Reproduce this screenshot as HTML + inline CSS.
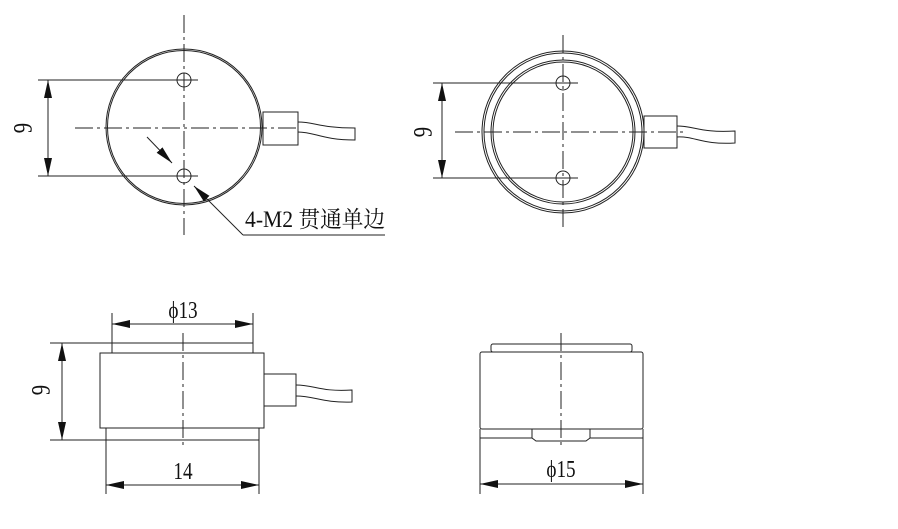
<!DOCTYPE html>
<html><head><meta charset="utf-8"><style>
html,body{margin:0;padding:0;background:#fff;}
svg{display:block;}
text{font-family:"Liberation Serif","Noto Serif CJK SC",serif;fill:#111;}
</style></head><body>
<svg width="898" height="529" viewBox="0 0 898 529" xmlns="http://www.w3.org/2000/svg">
<defs>
<marker id="a" viewBox="0 0 18 8" refX="18" refY="4" markerWidth="18" markerHeight="8" orient="auto-start-reverse" markerUnits="userSpaceOnUse">
<path d="M0,0 L18,4 L0,8z" fill="#111"/></marker>
</defs>
<g stroke="#222" stroke-width="1" fill="none">
<circle cx="184" cy="127" r="78"/>
<circle cx="184" cy="127" r="76.5"/>
<circle cx="184" cy="80" r="7"/>
<circle cx="184" cy="176" r="7"/>
<line x1="184" y1="15" x2="184" y2="235" stroke-dasharray="18,4,3,4"/>
<line x1="75" y1="128" x2="300" y2="128" stroke-dasharray="18,4,3,4"/>
<line x1="38" y1="80" x2="198" y2="80"/>
<line x1="38" y1="176" x2="198" y2="176"/>
<line x1="48" y1="80" x2="48" y2="176" marker-start="url(#a)" marker-end="url(#a)"/>
<rect x="263" y="112" width="35" height="33"/>
<path d="M298,122 C315,122 320,128 355,128 L355,140 C322,140 315,132 298,132"/>
<line x1="147" y1="137" x2="172" y2="163" marker-end="url(#a)"/>
<line x1="243" y1="235" x2="194" y2="186" marker-end="url(#a)"/>
<line x1="243" y1="235" x2="385" y2="235"/>
<circle cx="563" cy="132" r="81"/>
<circle cx="563" cy="132" r="79"/>
<circle cx="563" cy="132" r="72"/>
<circle cx="563" cy="132" r="70"/>
<circle cx="563" cy="83" r="7"/>
<circle cx="563" cy="178" r="7"/>
<line x1="563" y1="35" x2="563" y2="230" stroke-dasharray="18,4,3,4"/>
<line x1="455" y1="132" x2="685" y2="132" stroke-dasharray="18,4,3,4"/>
<line x1="433" y1="83" x2="578" y2="83"/>
<line x1="433" y1="178" x2="578" y2="178"/>
<line x1="442" y1="83" x2="442" y2="178" marker-start="url(#a)" marker-end="url(#a)"/>
<rect x="644" y="116" width="33" height="32"/>
<path d="M677,126 C695,126 700,133 735,131 L735,143 C702,145 695,136 677,137"/>
<rect x="112" y="343" width="141" height="10"/>
<rect x="100" y="353" width="164" height="75"/>
<rect x="106" y="428" width="153" height="12"/>
<rect x="264" y="374" width="32" height="32"/>
<path d="M296,385 C315,385 320,392 352,390 L352,402 C322,403 315,396 296,396"/>
<line x1="183" y1="333" x2="183" y2="448" stroke-dasharray="18,4,3,4"/>
<line x1="112" y1="313" x2="112" y2="343"/>
<line x1="253" y1="313" x2="253" y2="343"/>
<line x1="112" y1="324" x2="253" y2="324" marker-start="url(#a)" marker-end="url(#a)"/>
<line x1="50" y1="343" x2="112" y2="343"/>
<line x1="50" y1="440" x2="106" y2="440"/>
<line x1="62" y1="343" x2="62" y2="440" marker-start="url(#a)" marker-end="url(#a)"/>
<line x1="106" y1="440" x2="106" y2="494"/>
<line x1="259" y1="440" x2="259" y2="494"/>
<line x1="106" y1="485" x2="259" y2="485" marker-start="url(#a)" marker-end="url(#a)"/>
<rect x="491" y="344" width="141" height="8" rx="2"/>
<rect x="480" y="352" width="163" height="77" rx="2"/>
<path d="M480,429 L480,438 L532,438 M590,438 L643,438 L643,429 M532,429 L532,438 L536,441 L586,441 L590,438 L590,429"/>
<line x1="561" y1="333" x2="561" y2="448" stroke-dasharray="18,4,3,4"/>
<line x1="480" y1="438" x2="480" y2="494"/>
<line x1="643" y1="438" x2="643" y2="494"/>
<line x1="480" y1="484" x2="643" y2="484" marker-start="url(#a)" marker-end="url(#a)"/>
</g>
<text x="0" y="0" font-size="26" transform="translate(24,128) rotate(-90) scale(0.8,1)" text-anchor="middle" dominant-baseline="central">9</text>
<text x="0" y="0" font-size="26" transform="translate(424,132) rotate(-90) scale(0.8,1)" text-anchor="middle" dominant-baseline="central">9</text>
<text x="0" y="0" font-size="26" transform="translate(42,390) rotate(-90) scale(0.8,1)" text-anchor="middle" dominant-baseline="central">9</text>
<text x="245" y="227" font-size="23" textLength="140" lengthAdjust="spacingAndGlyphs">4-M2 贯通单边</text>
<text x="0" y="0" font-size="24" transform="translate(183,318) scale(0.8,1)" text-anchor="middle">ϕ13</text>
<text x="0" y="0" font-size="24" transform="translate(183,479) scale(0.8,1)" text-anchor="middle">14</text>
<text x="0" y="0" font-size="24" transform="translate(561,477) scale(0.8,1)" text-anchor="middle">ϕ15</text>
</svg>
</body></html>
